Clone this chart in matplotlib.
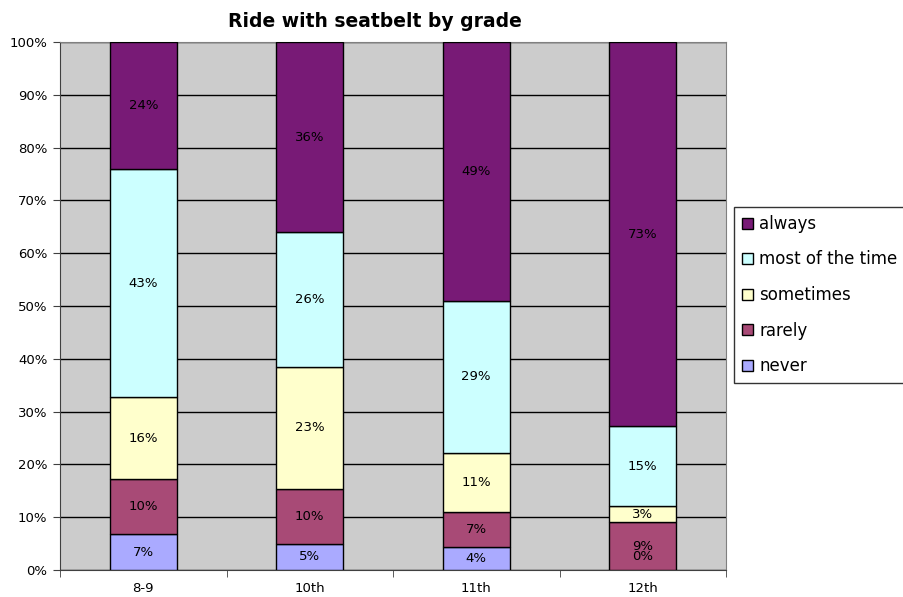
import numpy as np
import matplotlib
matplotlib.use("Agg")
import matplotlib.pyplot as plt
from matplotlib.patches import Patch
from matplotlib.ticker import FixedLocator, NullFormatter

grades = ["8-9", "10th", "11th", "12th"]
never = [6.8, 5.0, 4.3, 0.0]
rarely = [10.4, 10.3, 6.7, 9.0]
sometimes = [15.5, 23.2, 11.2, 3.1]
most_time = [43.2, 25.5, 28.8, 15.1]
always = [24.1, 36.0, 49.0, 72.8]

series = [("never", never, "#AAAAFF"),
          ("rarely", rarely, "#A84A76"),
          ("sometimes", sometimes, "#FFFFCC"),
          ("most of the time", most_time, "#CCFFFF"),
          ("always", always, "#781A76")]

plt.rcParams['font.family'] = ['DejaVu Sans']

fig = plt.figure(figsize=(9.04, 5.97), dpi=100)
ax = fig.add_axes([60/904, 1 - 570/597, 666/904, 528/597])
ax.set_facecolor("#CCCCCC")

x = np.arange(len(grades))
bottom = np.zeros(len(grades))
for name, vals, col in series:
    vals = np.array(vals)
    ax.bar(x, vals, width=0.4, bottom=bottom, color=col, edgecolor="black",
           linewidth=1, zorder=3)
    for xi, b, v in zip(x, bottom, vals):
        y = b + v / 2 if v > 0 else b + 2.6
        ax.text(xi, y, f"{v:.0f}%", ha="center", va="center", fontsize=9.5,
                color="black", zorder=4)
    bottom += vals

ax.set_xlim(-0.5, len(grades) - 0.5)
ax.set_ylim(0, 100)
ax.set_yticks(np.arange(0, 101, 10))
ax.set_yticklabels([f"{v}%" for v in range(0, 101, 10)], fontsize=9.5)
ax.yaxis.grid(True, color="black", linewidth=1, zorder=1)
ax.set_axisbelow(True)

ax.set_xticks(x)
ax.set_xticklabels(grades, fontsize=9.5)
ax.tick_params(axis="x", which="major", length=0, pad=9)
ax.xaxis.set_minor_locator(FixedLocator(np.arange(-0.5, len(grades), 1)))
ax.xaxis.set_minor_formatter(NullFormatter())
ax.tick_params(axis="x", which="minor", length=5, direction="out", color="#404040")
ax.tick_params(axis="y", length=5, direction="out", color="#404040", pad=4)

for s in ["top", "right"]:
    ax.spines[s].set_color("#808080")
for s in ["left", "bottom"]:
    ax.spines[s].set_color("#404040")

fig.text(375/904, 1 - 27/597, "Ride with seatbelt by grade", fontsize=13.5,
         fontweight="bold", ha="center", va="baseline")

handles = [Patch(facecolor=col, edgecolor="black", label=name)
           for name, vals, col in series][::-1]
leg = fig.legend(handles=handles, loc="center left",
                 bbox_to_anchor=(734/904, 1 - 295/597), fontsize=12,
                 frameon=True, fancybox=False, edgecolor="black",
                 handlelength=0.66, handleheight=0.66, handletextpad=0.36,
                 labelspacing=1.05, borderpad=0.5, borderaxespad=0)
leg.get_frame().set_linewidth(1)

fig.savefig("out.png", dpi=100)
